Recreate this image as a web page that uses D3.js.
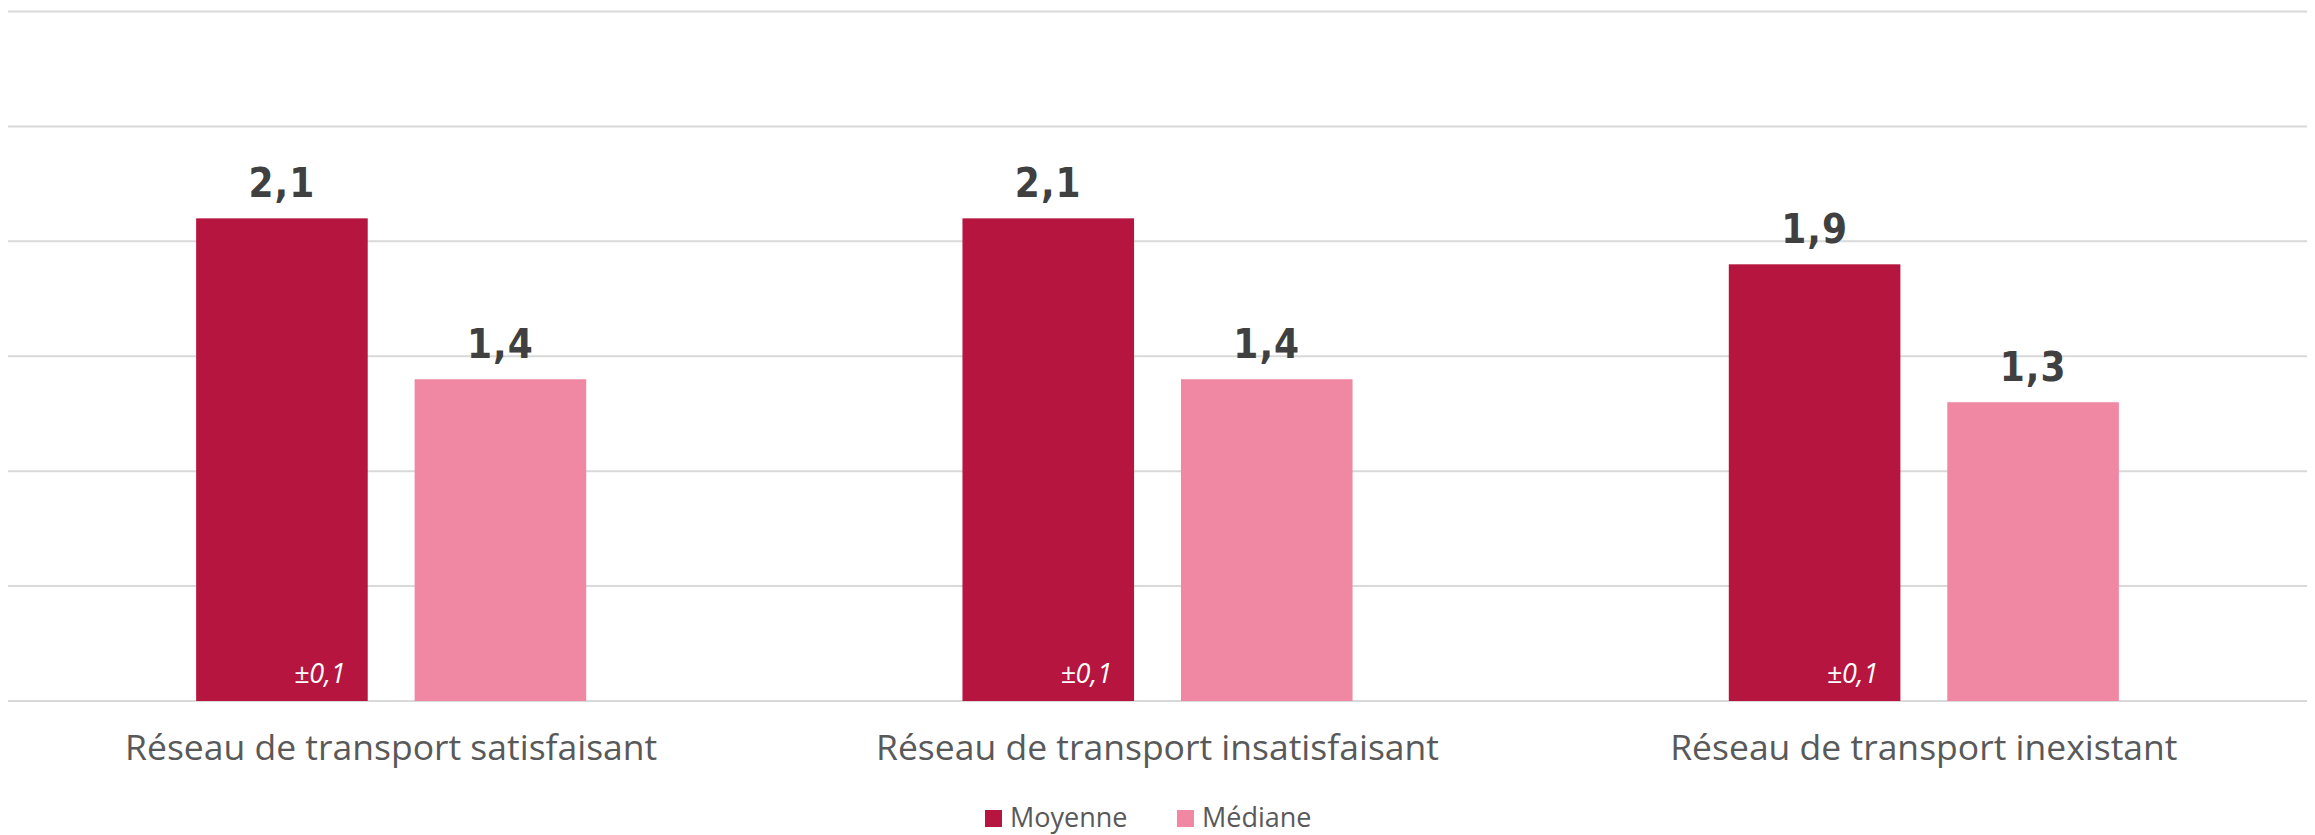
<!DOCTYPE html>
<html lang="fr">
<head>
<meta charset="utf-8">
<script src="https://cdn.jsdelivr.net/npm/d3@7"></script>
<style>
  html, body { margin: 0; padding: 0; background: #fff; }
  svg { display: block; }
</style>
</head>
<body>
<svg id="chart" width="2315" height="835"></svg>
<script>
// Catégories et séries
const categories = [
  "Réseau de transport satisfaisant",
  "Réseau de transport insatisfaisant",
  "Réseau de transport inexistant"
];
const seriesNames = ["Moyenne", "Médiane"];
const moyenne = [2.1, 2.1, 1.9];
const mediane = [1.4, 1.4, 1.3];
const margeErreur = [0.1, 0.1, 0.1];   // intervalle affiché sur la moyenne
const yTicks = [0, 0.5, 1, 1.5, 2, 2.5, 3];

const colors = { "Moyenne": "#B5153E", "Médiane": "#F088A3" };

const fr = d3.formatLocale({ decimal: ",", thousands: " ", grouping: [3], currency: ["", " €"] });
const fmt = fr.format(".1f");

const svg = d3.select("#chart");

const plot = { left: 8, right: 2307, top: 11.5, bottom: 701 };

const y = d3.scaleLinear().domain([0, 3]).range([plot.bottom, plot.top]);

const x0 = d3.scaleBand()
  .domain(categories)
  .range([plot.left, plot.right])
  .paddingInner(0.491)
  .paddingOuter(0.2455);

const x1 = d3.scaleBand()
  .domain(seriesNames)
  .range([0, x0.bandwidth()])
  .paddingInner(0.2146)
  .paddingOuter(0);

// Lignes de quadrillage horizontales
svg.append("g")
  .selectAll("line")
  .data(yTicks)
  .join("line")
  .attr("x1", plot.left)
  .attr("x2", plot.right)
  .attr("y1", d => y(d))
  .attr("y2", d => y(d))
  .attr("stroke", "#D9D9D9")
  .attr("stroke-width", 2);

const rows = categories.map((c, i) => ({
  cat: c,
  values: [
    { key: "Moyenne", value: moyenne[i], err: margeErreur[i] },
    { key: "Médiane", value: mediane[i], err: null }
  ]
}));

const groups = svg.append("g")
  .selectAll("g")
  .data(rows)
  .join("g")
  .attr("transform", d => `translate(${x0(d.cat)},0)`);

groups.selectAll("rect")
  .data(d => d.values)
  .join("rect")
  .attr("x", d => x1(d.key))
  .attr("y", d => y(d.value))
  .attr("width", x1.bandwidth())
  .attr("height", d => y(0) - y(d.value))
  .attr("fill", d => colors[d.key]);

// Étiquettes de valeur au-dessus des barres
groups.selectAll("text.val")
  .data(d => d.values)
  .join("text")
  .attr("class", "val")
  .attr("x", d => x1(d.key) + x1.bandwidth() / 2)
  .attr("y", d => y(d.value) - 21)
  .attr("text-anchor", "middle")
  .attr("font-family", "'DejaVu Sans Condensed', 'DejaVu Sans', sans-serif")
  .attr("font-weight", "bold")
  .attr("font-size", 40)
  .attr("letter-spacing", 1)
  .attr("fill", "#404040")
  .text(d => fmt(d.value));

// Marge d'erreur en italique dans la barre de la moyenne
groups.selectAll("text.err")
  .data(d => d.values.filter(v => v.err != null))
  .join("text")
  .attr("class", "err")
  .attr("x", d => x1(d.key) + x1.bandwidth() - 22)
  .attr("y", y(0) - 18)
  .attr("text-anchor", "end")
  .attr("font-family", "'Open Sans', sans-serif")
  .attr("font-style", "italic")
  .attr("font-size", 27)
  .attr("fill", "#FFFFFF")
  .text(d => "±" + fmt(d.err));

// Libellés des catégories
svg.append("g")
  .selectAll("text")
  .data(categories)
  .join("text")
  .attr("x", d => x0(d) + x0.bandwidth() / 2)
  .attr("y", 760)
  .attr("text-anchor", "middle")
  .attr("font-family", "'Open Sans', sans-serif")
  .attr("font-size", 35.5)
  .attr("fill", "#595959")
  .text(d => d);

// Légende
const legendItems = [
  { name: "Moyenne", x: 985 },
  { name: "Médiane", x: 1177 }
];
const legend = svg.append("g")
  .selectAll("g")
  .data(legendItems)
  .join("g")
  .attr("transform", d => `translate(${d.x},810)`);

legend.append("rect")
  .attr("width", 17)
  .attr("height", 17)
  .attr("fill", d => colors[d.name]);

legend.append("text")
  .attr("x", 25)
  .attr("y", 16.5)
  .attr("font-family", "'Open Sans', sans-serif")
  .attr("font-size", 27)
  .attr("fill", "#595959")
  .text(d => d.name);
</script>
</body>
</html>
